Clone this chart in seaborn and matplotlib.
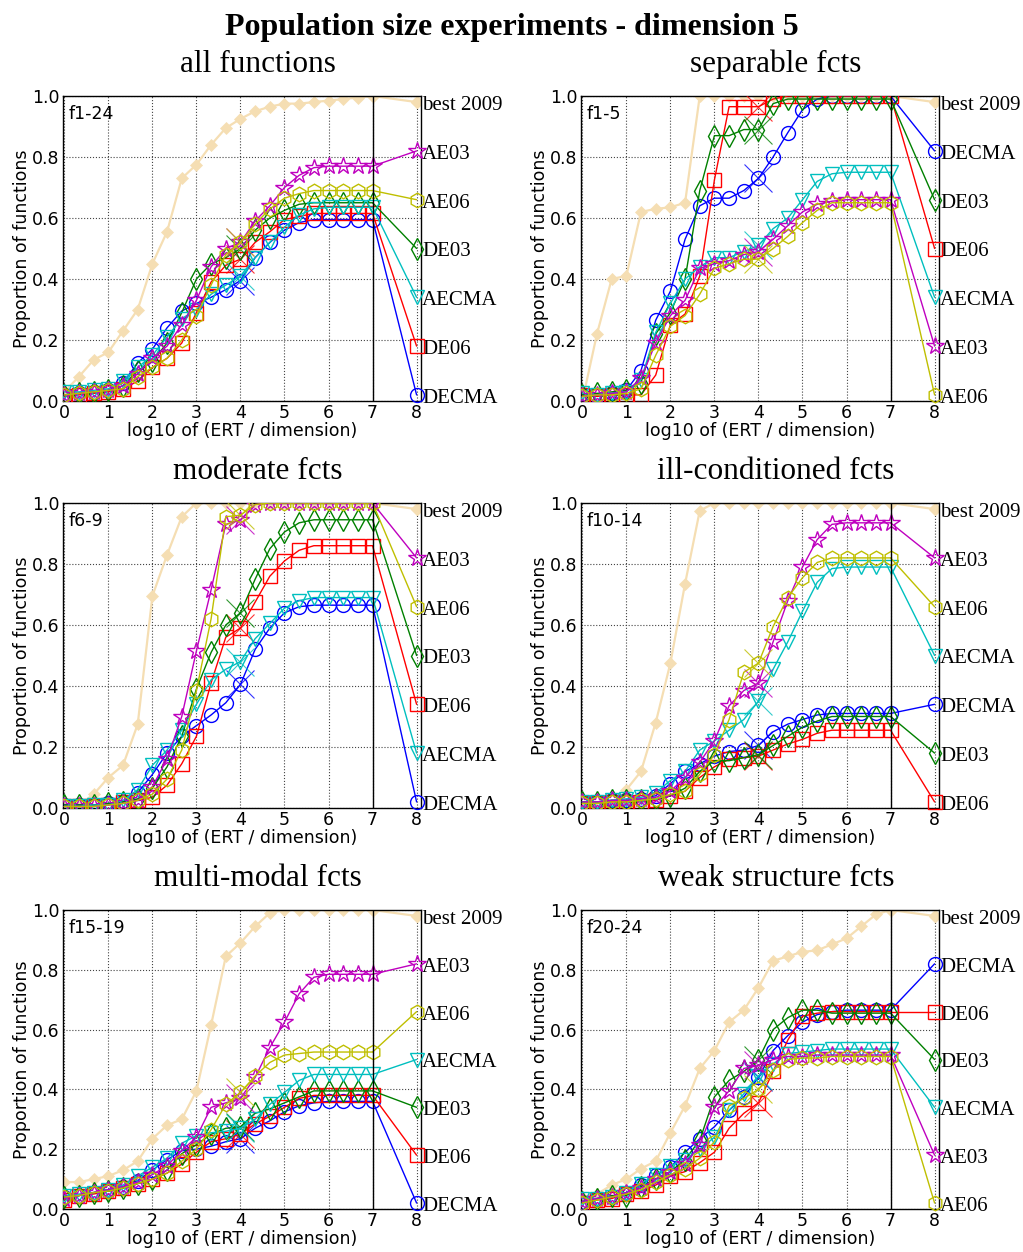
import numpy as np
import pandas as pd
import matplotlib
matplotlib.use("Agg")
import matplotlib.pyplot as plt
import seaborn as sns

# ---------------- data ----------------
x_log = [0.0, 0.333, 0.667, 1.0, 1.333, 1.667, 2.0, 2.333, 2.667, 3.0, 3.333,
         3.667, 4.0, 4.333, 4.667, 5.0, 5.333, 5.667, 6.0, 6.333, 6.667, 7.0]

algorithms = ["DECMA", "DE06", "DE03", "AECMA", "AE03", "AE06"]
algo_colors = ["#0000ff", "#ff0000", "#008000", "#00bfbf", "#bf00bf", "#bfbf00"]
algo_markers = ["o", "s", "d", "v", "*", "h"]

panel_titles = ["all functions", "separable fcts", "moderate fcts",
                "ill-conditioned fcts", "multi-modal fcts", "weak structure fcts"]
panel_tags = ["f1-24", "f1-5", "f6-9", "f10-14", "f15-19", "f20-24"]
label_levels = [0.98, 0.82, 0.66, 0.50, 0.34, 0.18, 0.02]

# all functions
all_best = [0.03, 0.08, 0.135, 0.16, 0.23, 0.30, 0.45, 0.555, 0.73, 0.775, 0.84,
            0.895, 0.925, 0.95, 0.965, 0.975, 0.975, 0.98, 0.985, 0.99, 0.995, 1.0]
all_DECMA = [0.02, 0.025, 0.03, 0.035, 0.06, 0.125, 0.17, 0.24, 0.295, 0.32, 0.34,
             0.365, 0.395, 0.47, 0.52, 0.56, 0.585, 0.595, 0.595, 0.595, 0.595, 0.595]
all_DE06 = [0.015, 0.02, 0.025, 0.03, 0.04, 0.065, 0.11, 0.14, 0.19, 0.29, 0.39,
            0.445, 0.465, 0.52, 0.555, 0.595, 0.605, 0.615, 0.615, 0.615, 0.615, 0.615]
all_DE03 = [0.02, 0.025, 0.03, 0.035, 0.05, 0.10, 0.13, 0.19, 0.29, 0.40, 0.45,
            0.47, 0.50, 0.56, 0.60, 0.625, 0.645, 0.65, 0.65, 0.65, 0.65, 0.65]
all_AECMA = [0.03, 0.03, 0.035, 0.04, 0.065, 0.11, 0.15, 0.21, 0.27, 0.30, 0.35,
             0.38, 0.41, 0.47, 0.52, 0.57, 0.61, 0.63, 0.635, 0.635, 0.635, 0.635]
all_AE03 = [0.02, 0.025, 0.03, 0.035, 0.05, 0.09, 0.14, 0.18, 0.25, 0.33, 0.44,
            0.50, 0.52, 0.59, 0.64, 0.70, 0.74, 0.765, 0.77, 0.77, 0.77, 0.77]
all_AE06 = [0.02, 0.025, 0.03, 0.035, 0.04, 0.08, 0.11, 0.14, 0.20, 0.28, 0.38,
            0.48, 0.52, 0.58, 0.63, 0.665, 0.68, 0.69, 0.69, 0.69, 0.69, 0.69]
all_order = ["AE03", "AE06", "DE03", "AECMA", "DE06", "DECMA"]

# separable
sep_best = [0.0, 0.22, 0.40, 0.41, 0.62, 0.63, 0.635, 0.65, 1.0, 1.0, 1.0,
            1.0, 1.0, 1.0, 1.0, 1.0, 1.0, 1.0, 1.0, 1.0, 1.0, 1.0]
sep_DECMA = [0.02, 0.02, 0.025, 0.035, 0.10, 0.265, 0.36, 0.53, 0.64, 0.665, 0.665,
             0.69, 0.73, 0.80, 0.88, 0.955, 0.99, 1.0, 1.0, 1.0, 1.0, 1.0]
sep_DE06 = [0.02, 0.015, 0.02, 0.02, 0.02, 0.085, 0.25, 0.285, 0.41, 0.725, 0.965,
            0.965, 0.965, 0.99, 1.0, 1.0, 1.0, 1.0, 1.0, 1.0, 1.0, 1.0]
sep_DE03 = [0.02, 0.025, 0.03, 0.035, 0.06, 0.22, 0.29, 0.40, 0.69, 0.87, 0.87,
            0.89, 0.89, 0.975, 0.99, 0.99, 0.99, 0.99, 0.99, 0.99, 0.99, 0.99]
sep_AECMA = [0.025, 0.02, 0.025, 0.03, 0.07, 0.225, 0.32, 0.40, 0.44, 0.47, 0.47,
             0.49, 0.51, 0.565, 0.60, 0.66, 0.72, 0.745, 0.75, 0.75, 0.75, 0.75]
sep_AE03 = [0.015, 0.02, 0.025, 0.03, 0.075, 0.19, 0.28, 0.33, 0.435, 0.45, 0.46,
            0.48, 0.49, 0.53, 0.575, 0.62, 0.645, 0.655, 0.66, 0.66, 0.66, 0.66]
sep_AE06 = [0.015, 0.02, 0.02, 0.025, 0.04, 0.15, 0.245, 0.28, 0.35, 0.435, 0.45,
            0.465, 0.465, 0.50, 0.54, 0.585, 0.625, 0.65, 0.65, 0.65, 0.65, 0.65]
sep_order = ["DECMA", "DE03", "DE06", "AECMA", "AE03", "AE06"]

# moderate
mod_best = [0.0, 0.01, 0.045, 0.10, 0.14, 0.275, 0.695, 0.83, 0.955, 1.0, 1.0,
            1.0, 1.0, 1.0, 1.0, 1.0, 1.0, 1.0, 1.0, 1.0, 1.0, 1.0]
mod_DECMA = [0.01, 0.01, 0.01, 0.015, 0.02, 0.05, 0.11, 0.18, 0.235, 0.27, 0.305,
             0.345, 0.405, 0.52, 0.59, 0.64, 0.66, 0.665, 0.665, 0.665, 0.665, 0.665]
mod_DE06 = [0.005, 0.005, 0.005, 0.01, 0.02, 0.025, 0.035, 0.075, 0.145, 0.235, 0.41,
            0.56, 0.59, 0.675, 0.76, 0.81, 0.845, 0.86, 0.86, 0.86, 0.86, 0.86]
mod_DE03 = [0.01, 0.01, 0.01, 0.015, 0.02, 0.03, 0.065, 0.135, 0.235, 0.39, 0.51,
            0.60, 0.64, 0.75, 0.85, 0.905, 0.935, 0.945, 0.945, 0.945, 0.945, 0.945]
mod_AECMA = [0.005, 0.005, 0.01, 0.01, 0.025, 0.06, 0.14, 0.19, 0.255, 0.34, 0.42,
             0.455, 0.48, 0.555, 0.605, 0.655, 0.68, 0.69, 0.69, 0.69, 0.69, 0.69]
mod_AE03 = [0.005, 0.005, 0.005, 0.01, 0.015, 0.025, 0.07, 0.16, 0.30, 0.515, 0.715,
            0.93, 0.945, 0.995, 1.0, 1.0, 1.0, 1.0, 1.0, 1.0, 1.0, 1.0]
mod_AE06 = [0.005, 0.005, 0.005, 0.01, 0.015, 0.025, 0.045, 0.095, 0.19, 0.385, 0.62,
            0.955, 0.96, 0.995, 1.0, 1.0, 1.0, 1.0, 1.0, 1.0, 1.0, 1.0]
mod_order = ["AE03", "AE06", "DE03", "DE06", "AECMA", "DECMA"]

# ill-conditioned
ill_best = [0.0, 0.0, 0.0, 0.06, 0.12, 0.28, 0.475, 0.735, 0.975, 1.0, 1.0,
            1.0, 1.0, 1.0, 1.0, 1.0, 1.0, 1.0, 1.0, 1.0, 1.0, 1.0]
ill_DECMA = [0.02, 0.02, 0.025, 0.025, 0.03, 0.04, 0.08, 0.12, 0.145, 0.17, 0.185,
             0.19, 0.205, 0.25, 0.275, 0.29, 0.305, 0.31, 0.31, 0.31, 0.31, 0.31]
ill_DE06 = [0.015, 0.015, 0.02, 0.02, 0.02, 0.025, 0.04, 0.055, 0.10, 0.135, 0.16,
            0.165, 0.17, 0.19, 0.21, 0.225, 0.245, 0.255, 0.255, 0.255, 0.255, 0.255]
ill_DE03 = [0.02, 0.02, 0.025, 0.025, 0.025, 0.03, 0.04, 0.065, 0.12, 0.155, 0.155,
            0.165, 0.175, 0.205, 0.235, 0.265, 0.285, 0.30, 0.30, 0.30, 0.30, 0.30]
ill_AECMA = [0.02, 0.02, 0.025, 0.03, 0.035, 0.05, 0.09, 0.12, 0.19, 0.22, 0.255,
             0.29, 0.35, 0.455, 0.545, 0.645, 0.74, 0.785, 0.79, 0.79, 0.79, 0.79]
ill_AE03 = [0.02, 0.02, 0.025, 0.025, 0.03, 0.035, 0.055, 0.10, 0.15, 0.22, 0.335,
            0.385, 0.41, 0.545, 0.68, 0.79, 0.88, 0.93, 0.935, 0.935, 0.935, 0.935]
ill_AE06 = [0.015, 0.015, 0.02, 0.02, 0.025, 0.03, 0.045, 0.055, 0.11, 0.175, 0.29,
            0.445, 0.475, 0.595, 0.69, 0.755, 0.805, 0.82, 0.82, 0.82, 0.82, 0.82]
ill_order = ["AE03", "AE06", "AECMA", "DECMA", "DE03", "DE06"]

# multi-modal
mul_best = [0.09, 0.09, 0.10, 0.11, 0.13, 0.16, 0.235, 0.28, 0.30, 0.395, 0.615,
            0.845, 0.89, 0.945, 0.99, 1.0, 1.0, 1.0, 1.0, 1.0, 1.0, 1.0]
mul_DECMA = [0.04, 0.045, 0.055, 0.065, 0.075, 0.095, 0.13, 0.165, 0.195, 0.20, 0.21,
             0.225, 0.235, 0.27, 0.295, 0.325, 0.345, 0.355, 0.36, 0.36, 0.36, 0.36]
mul_DE06 = [0.03, 0.045, 0.05, 0.06, 0.07, 0.085, 0.10, 0.12, 0.15, 0.19, 0.225,
            0.235, 0.25, 0.285, 0.31, 0.34, 0.37, 0.38, 0.38, 0.38, 0.38, 0.38]
mul_DE03 = [0.04, 0.045, 0.055, 0.06, 0.07, 0.085, 0.10, 0.13, 0.185, 0.215, 0.25,
            0.27, 0.275, 0.32, 0.335, 0.355, 0.375, 0.395, 0.395, 0.395, 0.395, 0.395]
mul_AECMA = [0.045, 0.05, 0.055, 0.065, 0.08, 0.11, 0.14, 0.17, 0.22, 0.245, 0.255,
             0.26, 0.27, 0.30, 0.35, 0.39, 0.43, 0.45, 0.45, 0.45, 0.45, 0.45]
mul_AE03 = [0.035, 0.045, 0.055, 0.065, 0.075, 0.09, 0.115, 0.145, 0.195, 0.24, 0.34,
            0.355, 0.37, 0.44, 0.54, 0.625, 0.72, 0.775, 0.785, 0.785, 0.785, 0.785]
mul_AE06 = [0.04, 0.045, 0.055, 0.06, 0.07, 0.085, 0.10, 0.12, 0.16, 0.20, 0.265,
            0.35, 0.39, 0.445, 0.49, 0.515, 0.52, 0.525, 0.525, 0.525, 0.525, 0.525]
mul_order = ["AE03", "AE06", "AECMA", "DE03", "DE06", "DECMA"]

# weak structure
weak_best = [0.04, 0.05, 0.08, 0.10, 0.135, 0.16, 0.255, 0.345, 0.47, 0.53, 0.625,
             0.665, 0.74, 0.83, 0.845, 0.86, 0.865, 0.885, 0.905, 0.945, 0.985, 1.0]
weak_DECMA = [0.025, 0.035, 0.04, 0.055, 0.08, 0.115, 0.14, 0.19, 0.235, 0.275, 0.33,
              0.375, 0.44, 0.53, 0.58, 0.625, 0.65, 0.66, 0.665, 0.665, 0.665, 0.665]
weak_DE06 = [0.02, 0.03, 0.035, 0.05, 0.06, 0.08, 0.11, 0.125, 0.155, 0.19, 0.27,
             0.32, 0.355, 0.46, 0.565, 0.645, 0.655, 0.66, 0.66, 0.66, 0.66, 0.66]
weak_DE03 = [0.025, 0.035, 0.045, 0.045, 0.075, 0.10, 0.125, 0.165, 0.23, 0.375, 0.43,
             0.46, 0.50, 0.60, 0.64, 0.665, 0.665, 0.655, 0.655, 0.655, 0.655, 0.655]
weak_AECMA = [0.035, 0.035, 0.04, 0.055, 0.085, 0.115, 0.145, 0.165, 0.20, 0.24, 0.33,
              0.385, 0.445, 0.485, 0.52, 0.525, 0.53, 0.535, 0.535, 0.535, 0.535, 0.535]
weak_AE03 = [0.025, 0.035, 0.04, 0.055, 0.07, 0.10, 0.125, 0.15, 0.215, 0.34, 0.395,
             0.47, 0.48, 0.50, 0.51, 0.51, 0.515, 0.515, 0.515, 0.515, 0.515, 0.515]
weak_AE06 = [0.02, 0.03, 0.04, 0.05, 0.065, 0.09, 0.115, 0.135, 0.17, 0.225, 0.345,
             0.37, 0.40, 0.465, 0.50, 0.505, 0.505, 0.51, 0.51, 0.51, 0.51, 0.51]
weak_order = ["DECMA", "DE06", "DE03", "AECMA", "AE03", "AE06"]

panels = [
    (all_best, [all_DECMA, all_DE06, all_DE03, all_AECMA, all_AE03, all_AE06], all_order),
    (sep_best, [sep_DECMA, sep_DE06, sep_DE03, sep_AECMA, sep_AE03, sep_AE06], sep_order),
    (mod_best, [mod_DECMA, mod_DE06, mod_DE03, mod_AECMA, mod_AE03, mod_AE06], mod_order),
    (ill_best, [ill_DECMA, ill_DE06, ill_DE03, ill_AECMA, ill_AE03, ill_AE06], ill_order),
    (mul_best, [mul_DECMA, mul_DE06, mul_DE03, mul_AECMA, mul_AE03, mul_AE06], mul_order),
    (weak_best, [weak_DECMA, weak_DE06, weak_DE03, weak_AECMA, weak_AE03, weak_AE06], weak_order),
]

# ---------------- style ----------------
sns.set_style("white")
plt.rcParams["font.family"] = ["DejaVu Sans"]
plt.rcParams["text.color"] = "black"
plt.rcParams["axes.labelcolor"] = "black"
plt.rcParams["xtick.color"] = "black"
plt.rcParams["ytick.color"] = "black"
SERIF = ["Liberation Serif", "DejaVu Serif"]

fig = plt.figure(figsize=(10.23, 12.52), dpi=100)
W, H = 1023.0, 1252.0
lefts = [63, 581]
tops = [96, 503, 910]
aw = 358
heights = [305, 305, 299]

marker_sizes = {"o": 10, "s": 9.5, "d": 11, "v": 10, "*": 13, "h": 10.5}
best_color = "#f5deb3"

for p, (best, series, order) in enumerate(panels):
    row, col = divmod(p, 2)
    ah = heights[row]
    ax = fig.add_axes([lefts[col] / W, 1 - (tops[row] + ah) / H, aw / W, ah / H])

    # best 2009
    sns.lineplot(x=x_log, y=best, ax=ax, color=best_color, lw=1.6, marker="D",
                 markersize=6, markerfacecolor=best_color, markeredgecolor=best_color,
                 markeredgewidth=0.5, errorbar=None, zorder=2)
    ax.plot([x_log[-1], 8], [best[-1], label_levels[0]], color=best_color, lw=1.6,
            marker="D", markersize=6, markerfacecolor=best_color,
            markeredgecolor=best_color, zorder=2)
    ax.annotate("best 2009", xy=(8, label_levels[0]), xytext=(4, -2.5),
                textcoords="offset points", va="center", ha="left",
                fontsize=15, family=SERIF, annotation_clip=False)

    for name, vals, colr, mk in zip(algorithms, series, algo_colors, algo_markers):
        ms = marker_sizes[mk]
        sns.lineplot(x=x_log, y=vals, ax=ax, color=colr, lw=1.0, marker=mk,
                     markersize=ms, markerfacecolor="none", markeredgecolor=colr,
                     markeredgewidth=1.0, errorbar=None, zorder=3)
        # maximum evaluations cross
        ax.plot([4.0], [vals[12]], marker="x", markersize=20, markeredgewidth=0.8,
                color=colr, alpha=0.8, zorder=3)
        lvl = label_levels[1 + order.index(name)]
        ax.plot([x_log[-1], 8], [vals[-1], lvl], color=colr, lw=1.0, zorder=3)
        ax.plot([8], [lvl], marker=mk, markersize=ms, markerfacecolor="none",
                markeredgecolor=colr, markeredgewidth=1.0, clip_on=False, zorder=4)
        ax.annotate(name, xy=(8, lvl), xytext=(4, -2.5), textcoords="offset points",
                    va="center", ha="left", fontsize=15, family=SERIF,
                    annotation_clip=False)

    ax.axvline(7, color="black", lw=1.0, zorder=5)
    ax.set_xlim(-0.03, 8.1)
    ax.set_ylim(0, 1)
    ax.set_xticks(range(0, 9))
    ax.set_yticks([0.0, 0.2, 0.4, 0.6, 0.8, 1.0])
    ax.set_yticklabels(["0.0", "0.2", "0.4", "0.6", "0.8", "1.0"])
    ax.grid(True, linestyle=":", color="#444444", lw=0.8)
    ax.tick_params(labelsize=12.5, direction="in", length=4, pad=2.5)
    for s in ax.spines.values():
        s.set_color("black")
        s.set_linewidth(1.0)
    ax.set_xlabel("log10 of (ERT / dimension)", fontsize=12.5, labelpad=0)
    ax.set_ylabel("Proportion of functions", fontsize=12.5, labelpad=0.5)
    ax.set_title(panel_titles[p], fontsize=22.5, family=SERIF, pad=17, x=0.545)
    ax.text(0.015, 0.97, panel_tags[p], transform=ax.transAxes, va="top",
            ha="left", fontsize=12.5)

fig.suptitle("Population size experiments - dimension 5", fontsize=23,
             fontweight="bold", family=SERIF, y=0.99)

fig.savefig("out.png", dpi=100)
